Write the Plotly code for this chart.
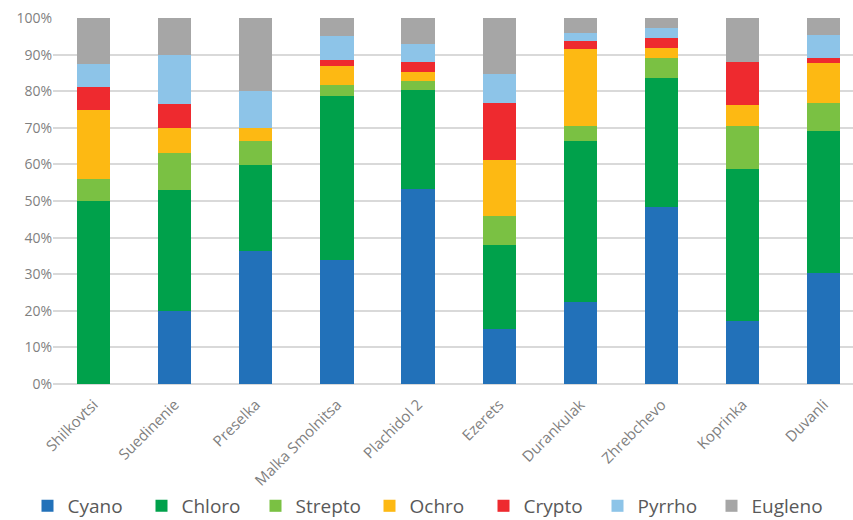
import plotly.graph_objects as go

sites = ["Shilkovtsi", "Suedinenie", "Preselka", "Malka Smolnitsa", "Plachidol 2",
         "Ezerets", "Durankulak", "Zhrebchevo", "Koprinka", "Duvanli"]

cyano   = [0.0, 20.0, 36.3, 34.0, 53.4, 15.0, 22.4, 48.4, 17.1, 30.2]
chloro  = [50.0, 33.1, 23.5, 44.8, 27.0, 23.1, 44.1, 35.3, 41.6, 38.9]
strepto = [6.0, 9.9, 6.7, 3.0, 2.4, 7.7, 4.0, 5.4, 11.8, 7.7]
ochro   = [19.0, 7.0, 3.5, 5.2, 2.5, 15.3, 20.9, 2.7, 5.7, 11.0]
crypto  = [6.2, 6.6, 0.0, 1.5, 2.7, 15.7, 2.3, 2.8, 11.9, 1.3]
pyrrho  = [6.3, 13.4, 10.0, 6.6, 4.8, 8.0, 2.2, 2.7, 0.0, 6.2]
eugleno = [12.5, 10.0, 20.0, 4.9, 7.2, 15.2, 4.1, 2.7, 11.9, 4.7]

series = [
    ("Cyano", cyano, "#2271b9"),
    ("Chloro", chloro, "#00a14b"),
    ("Strepto", strepto, "#7ac143"),
    ("Ochro", ochro, "#fdb913"),
    ("Crypto", crypto, "#ee2a2f"),
    ("Pyrrho", pyrrho, "#8dc4e8"),
    ("Eugleno", eugleno, "#a6a6a6"),
]

fig = go.Figure()
for name, vals, col in series:
    fig.add_trace(go.Bar(x=list(range(len(sites))), y=[v / 100 for v in vals], name=name,
                         marker=dict(color=col, line=dict(width=0))))

fig.update_layout(
    barmode="stack",
    bargap=0.59,
    width=853, height=520,
    margin=dict(l=53, r=0, t=18, b=136),
    plot_bgcolor="white", paper_bgcolor="white",
    font=dict(family="Open Sans", color="#7f7f7f"),
    showlegend=True,
    legend=dict(orientation="h", x=0.5, xanchor="center", xref="container",
                y=0.027, yanchor="middle", yref="container",
                font=dict(size=19, color="#595959"), traceorder="normal",
                entrywidth=69),
    xaxis=dict(tickmode="array", tickvals=list(range(len(sites))), ticktext=sites,
               range=[-0.5, 9.36], tickangle=-45, tickfont=dict(size=15, color="#7f7f7f"),
               ticklabelstandoff=8, automargin=False,
               showgrid=False, showline=False, zeroline=False, ticks=""),
    yaxis=dict(range=[0, 1], tickformat=".0%", dtick=0.1, tickfont=dict(size=14, color="#7f7f7f"),
               gridcolor="#d9d9d9", gridwidth=1.5, showline=False, zeroline=True,
               zerolinecolor="#d9d9d9", zerolinewidth=1.5, ticks="", automargin=False),
)

fig.write_html("out.html")
